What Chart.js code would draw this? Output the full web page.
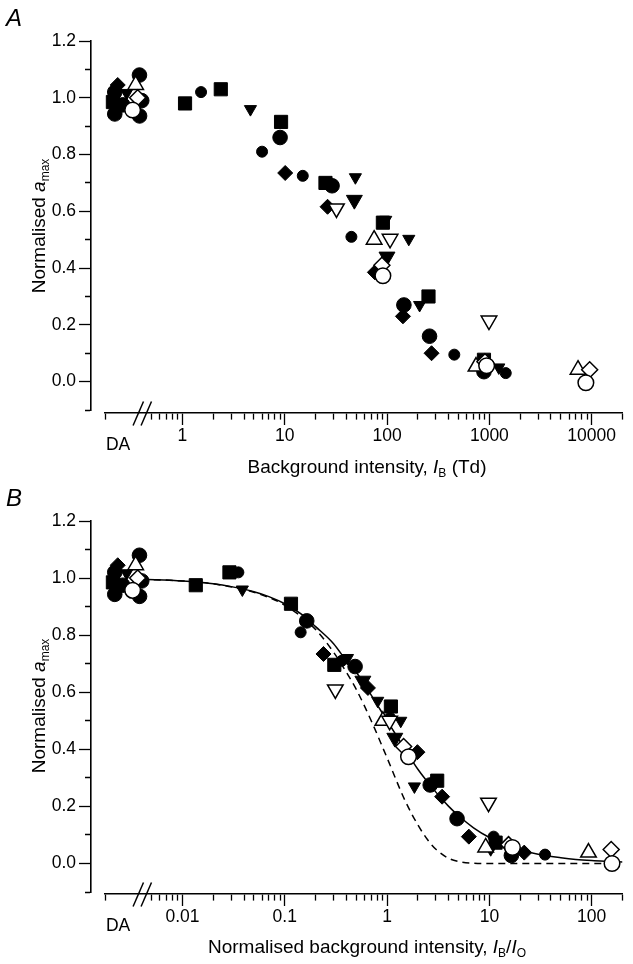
<!DOCTYPE html>
<html>
<head>
<meta charset="utf-8">
<script src="https://cdn.jsdelivr.net/npm/chart.js@4/dist/chart.umd.min.js"></script>
<style>
  body { margin: 0; background: #fff; }
  #page { position: relative; width: 633px; height: 964px; overflow: hidden;
          font-family: "Liberation Sans", Arial, sans-serif; color: #000; }
  canvas { position: absolute; left: 0; }
  .letter { position: absolute; font-size: 24px; font-style: italic; line-height: 1; }
  .xt { position: absolute; font-size: 19px; line-height: 1; white-space: nowrap; transform: translate(-50%, -50%); }
  .yt { position: absolute; font-size: 19px; line-height: 1; white-space: nowrap; transform: translate(-50%, -50%) rotate(-90deg); }
  .sub { font-size: 12px; position: relative; top: 4px; }
</style>
</head>
<body>
<div id="page">
  <canvas id="chartA" width="633" height="482" style="top:0"></canvas>
  <canvas id="chartB" width="633" height="482" style="top:481px"></canvas>
  <div class="letter" style="left:6px;top:6px">A</div>
  <div class="letter" style="left:6px;top:486px">B</div>
  <div class="yt" style="left:38px;top:226px">Normalised <i>a</i><span class="sub">max</span></div>
  <div class="yt" style="left:38px;top:706px">Normalised <i>a</i><span class="sub">max</span></div>
  <div class="xt" style="left:367px;top:466px">Background intensity, <i>I</i><span class="sub">B</span> (Td)</div>
  <div class="xt" style="left:367px;top:946px">Normalised background intensity, <i>I</i><span class="sub">B</span>/<i>I</i><span class="sub">O</span></div>
</div>

<script>
// ---- data (A: background intensity in Td, B: normalised I_B/I_O) ----
// filled squares
const sqAx = [1.06, 2.37, 9.2, 25, 91, 254, 885];
const sqAy = [0.98, 1.03, 0.915, 0.70, 0.56, 0.30, 0.077];
const sqBx = [0.0135, 0.0288, 0.115, 0.305, 1.09, 3.09, 11.5];
const sqBy = [0.975, 1.02, 0.91, 0.696, 0.55, 0.29, 0.073];
// filled diamonds
const diAx = [10.1, 26.2, 76, 143, 272, 900];
const diAy = [0.735, 0.616, 0.385, 0.23, 0.10, 0.038];
const diBx = [0.239, 0.65, 1.98, 3.45, 6.3, 21.9];
const diBy = [0.734, 0.615, 0.39, 0.234, 0.094, 0.038];
// filled circles, large
const cLAx = [9.0, 29, 146, 260, 885];
const cLAy = [0.86, 0.69, 0.27, 0.16, 0.035];
const cLBx = [0.164, 0.487, 2.64, 4.83, 16.4];
const cLBy = [0.85, 0.69, 0.275, 0.157, 0.028];
// filled circles, small
const cSAx = [1.52, 6.0, 15.0, 44.8, 454, 1445];
const cSAy = [1.02, 0.81, 0.725, 0.51, 0.095, 0.03];
const cSBx = [0.0352, 0.143, 0.36, 1.07, 11, 35];
const cSBy = [1.02, 0.81, 0.71, 0.51, 0.094, 0.031];
// filled down-triangles, large
const tdLAx = [47.9, 99.8];
const tdLAy = [0.64, 0.44];
const tdLBx = [0.58, 1.19];
const tdLBy = [0.64, 0.44];
// filled down-triangles, small
const tdSAx = [4.62, 49, 97, 163, 208, 1236];
const tdSAy = [0.96, 0.72, 0.57, 0.503, 0.27, 0.05];
const tdSBx = [0.0385, 0.41, 0.81, 1.36, 1.85, 10.3];
const tdSBy = [0.96, 0.72, 0.57, 0.50, 0.27, 0.05];
// open up-triangles
const tuOAx = [74.7, 740, 7350];
const tuOAy = [0.50, 0.053, 0.042];
const tuOBx = [0.91, 9.2, 93];
const tuOBy = [0.50, 0.056, 0.038];
// open down-triangles
const tdOAx = [32, 107, 991];
const tdOAy = [0.61, 0.503, 0.215];
const tdOBx = [0.312, 1.06, 9.8];
const tdOBy = [0.61, 0.50, 0.213];
// open diamonds
const diOAx = [89, 905, 9550];
const diOAy = [0.41, 0.07, 0.042];
const diOBx = [1.45, 15.4, 155];
const diOBy = [0.41, 0.066, 0.049];
// open circles
const cOAx = [91, 940, 8770];
const cOAy = [0.373, 0.056, -0.004];
const cOBx = [1.62, 16.8, 158];
const cOBy = [0.374, 0.056, 0.0];

// dark-adapted (DA) points, same in both panels, spread across the DA slot
const daSym  = ['cL', 'di', 'tuO', 'cL', 'tdS', 'diO', 'cL', 'sq', 'cL', 'cO', 'cL', 'cL'];
const daPosA = [0.38, 0.233, 0.349, 0.218, 0.285, 0.365, 0.40, 0.209, 0.261, 0.326, 0.218, 0.381];
const daPosB = [0.0038, 0.00233, 0.00349, 0.00218, 0.00285, 0.00365, 0.0040, 0.00209, 0.00261, 0.00326, 0.00218, 0.00381];
const daY    = [1.08, 1.045, 1.045, 1.02, 1.017, 1.00, 0.99, 0.985, 0.975, 0.957, 0.943, 0.936];

// panel B curves (solid and dashed)
const solidX = [0.004, 0.01, 0.02, 0.03, 0.05, 0.07, 0.1, 0.15, 0.2, 0.3, 0.4, 0.5, 0.7, 1, 1.5, 2, 3, 4, 5, 7, 10, 15, 20, 30, 50, 70, 100, 150, 200];
const solidY = [0.996, 0.99, 0.98, 0.97, 0.952, 0.935, 0.91, 0.87, 0.83, 0.77, 0.71, 0.67, 0.59, 0.50, 0.40, 0.33, 0.25, 0.20, 0.167, 0.125, 0.091, 0.063, 0.048, 0.032, 0.02, 0.014, 0.01, 0.007, 0.005];
const dashX = [0.004, 0.01, 0.02, 0.05, 0.1, 0.2, 0.3, 0.4, 0.5, 0.7, 1, 1.5, 2, 2.5, 3, 4, 5, 7, 10, 20, 50, 100, 160];
const dashY = [0.996, 0.99, 0.98, 0.95, 0.905, 0.82, 0.74, 0.67, 0.61, 0.50, 0.37, 0.22, 0.135, 0.082, 0.05, 0.018, 0.007, 0.001, 0, 0, 0, 0, 0];

// tick labels
const yLabelTicks = [0, 0.2, 0.4, 0.6, 0.8, 1.0, 1.2];
const xLabelsA = ['1', '10', '100', '1000', '10000'];
const xLabelsB = ['0.01', '0.1', '1', '10', '100'];

// ---- drawing ----
const FONT = '"Liberation Sans", Arial, sans-serif';
const TICK_SIZE = 17.5;

const markers = {
  cO:  { style: 'circle',   r: 7.8, open: true },
  diO: { style: 'rectRot',  r: 8,   open: true },
  tdO: { style: 'triangle', r: 9,   open: true, rot: 180 },
  tuO: { style: 'triangle', r: 9,   open: true },
  tdS: { style: 'triangle', r: 7,   rot: 180 },
  tdL: { style: 'triangle', r: 9.2, rot: 180 },
  di:  { style: 'rectRot',  r: 7.5 },
  sq:  { style: 'rect',     r: 9.3 },
  cS:  { style: 'circle',   r: 5.5 },
  cL:  { style: 'circle',   r: 7.3 }
};

const seriesA = { sq: [sqAx, sqAy], di: [diAx, diAy], cL: [cLAx, cLAy], cS: [cSAx, cSAy], tdL: [tdLAx, tdLAy],
  tdS: [tdSAx, tdSAy], tuO: [tuOAx, tuOAy], tdO: [tdOAx, tdOAy], diO: [diOAx, diOAy], cO: [cOAx, cOAy] };
const seriesB = { sq: [sqBx, sqBy], di: [diBx, diBy], cL: [cLBx, cLBy], cS: [cSBx, cSBy], tdL: [tdLBx, tdLBy],
  tdS: [tdSBx, tdSBy], tuO: [tuOBx, tuOBy], tdO: [tdOBx, tdOBy], diO: [diOBx, diOBy], cO: [cOBx, cOBy] };

function pts(xs, ys) { return xs.map((x, i) => ({ x: x, y: ys[i] })); }

function markerSets(series, daPos) {
  // first dataset is drawn on top
  return Object.keys(markers).map(k => {
    const m = markers[k];
    const data = pts(series[k][0], series[k][1]);
    daSym.forEach((s, i) => { if (s === k) data.push({ x: daPos[i], y: daY[i] }); });
    return {
      data: data,
      showLine: false,
      pointStyle: m.style,
      pointRotation: m.rot || 0,
      pointRadius: m.r,
      pointHoverRadius: m.r,
      pointBackgroundColor: m.open ? '#fff' : '#000',
      pointBorderColor: '#000',
      pointBorderWidth: m.open ? 1.5 : 1
    };
  });
}

// log-axis ticks: end ticks, DA slot, minor ticks and labelled decades
function logTicks(min, daAt, firstMinor, decades, labels, max) {
  const t = [{ value: min, label: '' }, { value: daAt, label: ['', 'DA'], da: true }];
  for (let m = 5; m <= 9; m++) t.push({ value: firstMinor * m, label: '' });
  decades.forEach((d, i) => {
    t.push({ value: d, label: labels[i], major: true });
    if (i < decades.length - 1) for (let m = 2; m <= 9; m++) t.push({ value: d * m, label: '' });
  });
  t.push({ value: max, label: '' });
  return t;
}

const axisBreak = {
  id: 'axisBreak',
  afterDraw(chart, args, opts) {
    const sx = chart.scales.x;
    const px = sx.getPixelForValue(opts.at);
    const py = sx.top + 0.5;
    const c = chart.ctx;
    c.save();
    c.strokeStyle = '#000';
    c.lineWidth = 1.5;
    [-4, 4].forEach(d => {
      c.beginPath();
      c.moveTo(px + d - 5.2, py + 12);
      c.lineTo(px + d + 5.2, py - 12);
      c.stroke();
    });
    c.restore();
  }
};

function makePanel(id, o) {
  const yTicks = [];
  for (let i = -1; i <= 12; i++) yTicks.push({ value: i / 10, major: i % 2 === 0 && i >= 0 });
  const tickDashX = c => (c.tick && c.tick.major) ? [] : [6, 100];
  const tickDashY = c => (c.tick && c.tick.major) ? [] : [0, 6, 6, 100];
  return new Chart(document.getElementById(id), {
    type: 'scatter',
    data: { datasets: o.datasets },
    plugins: [axisBreak],
    options: {
      responsive: false,
      animation: false,
      events: [],
      layout: { padding: { top: o.top, right: 4, bottom: 0, left: 0 } },
      plugins: { legend: { display: false }, tooltip: { enabled: false }, axisBreak: { at: o.breakAt } },
      scales: {
        x: {
          type: 'logarithmic', position: 'bottom', weight: 1,
          min: o.xMin, max: o.xMax,
          afterBuildTicks: s => { s.ticks = o.xTicks.map(t => Object.assign({}, t)); },
          afterFit: s => { s.height = 69; },
          border: { color: '#000', width: 1.6 },
          grid: {
            drawOnChartArea: false, tickLength: 12, tickWidth: 1.3,
            tickColor: c => (c.tick && c.tick.da) ? 'rgba(0,0,0,0)' : '#000',
            tickBorderDash: tickDashX
          },
          ticks: {
            autoSkip: false, maxRotation: 0, minRotation: 0, padding: 1, color: '#000',
            font: c => (c.tick && c.tick.da) ? { family: FONT, size: TICK_SIZE, lineHeight: '13px' } : { family: FONT, size: TICK_SIZE },
            callback: (v, i) => o.xTicks[i].label
          }
        },
        xgap: {
          type: 'linear', axis: 'x', position: 'bottom', weight: 0, display: true,
          grid: { display: false }, border: { display: false }, ticks: { display: false },
          afterFit: s => { s.height = o.gap; }
        },
        y: {
          type: 'linear', position: 'left', weight: 1, min: -0.1, max: 1.2,
          afterBuildTicks: s => { s.ticks = yTicks.map(t => Object.assign({}, t)); },
          afterFit: s => { s.width = 91; },
          border: { color: '#000', width: 1.6 },
          grid: { drawOnChartArea: false, tickLength: 12, tickWidth: 1.3, tickColor: '#000', tickBorderDash: tickDashY },
          ticks: {
            autoSkip: false, padding: 3, color: '#000', font: { family: FONT, size: TICK_SIZE },
            callback: v => yLabelTicks.some(t => Math.abs(t - v) < 1e-6) ? v.toFixed(1) : ''
          }
        },
        ygap: {
          type: 'linear', axis: 'y', position: 'left', weight: 0, display: true,
          grid: { display: false }, border: { display: false }, ticks: { display: false },
          afterFit: s => { s.width = 14; }
        }
      }
    }
  });
}

// panel A
makePanel('chartA', {
  top: 41, gap: 3, xMin: 0.175, xMax: 20000, breakAt: 0.405,
  xTicks: logTicks(0.175, 0.235, 0.1, [1, 10, 100, 1000, 10000], xLabelsA, 20000),
  datasets: markerSets(seriesA, daPosA)
});

// panel B
const curveSets = [
  { data: pts(solidX, solidY), showLine: true, pointRadius: 0, borderColor: '#000', borderWidth: 1.5,
    cubicInterpolationMode: 'monotone', fill: false },
  { data: pts(dashX, dashY), showLine: true, pointRadius: 0, borderColor: '#000', borderWidth: 1.5,
    borderDash: [7, 5], cubicInterpolationMode: 'monotone', fill: false }
];
makePanel('chartB', {
  top: 40, gap: 2, xMin: 0.00175, xMax: 200, breakAt: 0.00405,
  xTicks: logTicks(0.00175, 0.00235, 0.001, [0.01, 0.1, 1, 10, 100], xLabelsB, 200),
  datasets: markerSets(seriesB, daPosB).concat(curveSets)
});
</script>
</body>
</html>
